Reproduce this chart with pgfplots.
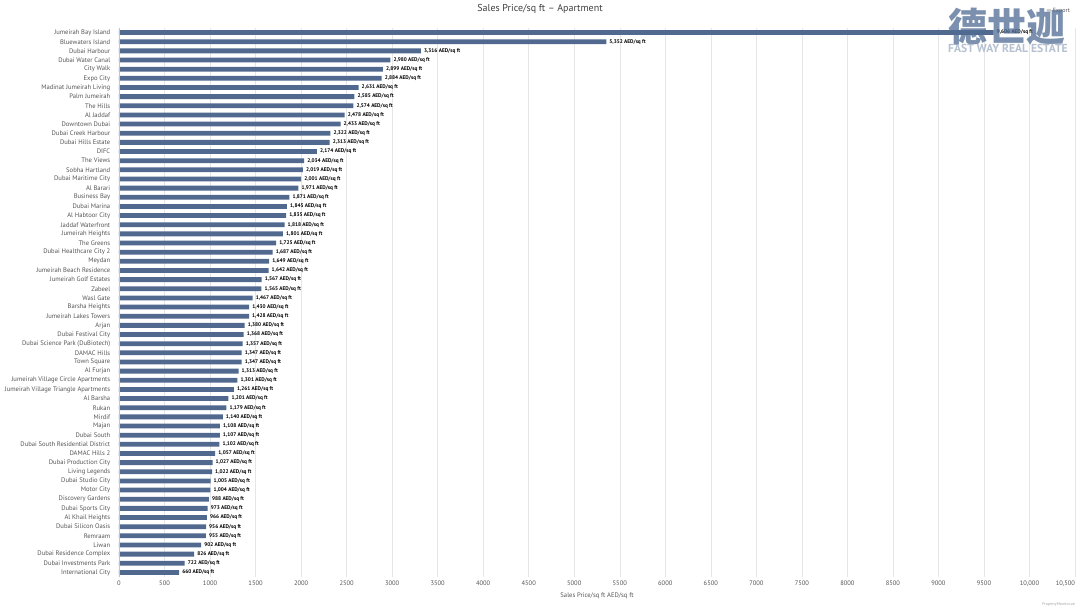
\documentclass[border=0pt]{standalone}
\usepackage{fontspec}
\setmainfont{PT Sans}
\newfontfamily\cjk{Noto Sans CJK SC}
\usepackage{pgfplots}
\pgfplotsset{compat=1.18}
\definecolor{barc}{HTML}{51698E}
\definecolor{gridc}{HTML}{E6E6E6}
\definecolor{txt}{HTML}{555555}
\definecolor{wm}{HTML}{4F6C94}
\definecolor{wm2}{HTML}{A9B6CA}
\begin{document}
\begin{tikzpicture}
\useasboundingbox (-119bp,-31bp) rectangle (961bp,577bp);
\fill[white] (-119bp,-31bp) rectangle (961bp,577bp);
\begin{axis}[
  scale only axis,
  width=956bp, height=549bp,
  xmin=0, xmax=10500,
  ymin=-0.5, ymax=59.5,
  y dir=reverse,
  xbar, bar width=4.8bp,
  axis line style={draw=none},
  major tick style={draw=none},
  scaled x ticks=false,
  /pgf/number format/assume math mode=true,
  xmajorgrids, grid style={gridc, line width=0.5bp},
  xtick={0,500,...,10500},
  xticklabels={0,500,1000,1500,2000,2500,3000,3500,4000,4500,5000,5500,6000,6500,7000,7500,8000,8500,9000,9500,{10,000},{\makebox[0pt][r]{10,500}}},
  xticklabel style={font=\fontsize{6.5bp}{8bp}\selectfont, text=txt, yshift=0bp},
  ytick={0,...,59},
  yticklabels={Jumeirah Bay Island,Bluewaters Island,Dubai Harbour,Dubai Water Canal,City Walk,Expo City,Madinat Jumeirah Living,Palm Jumeirah,The Hills,Al Jaddaf,Downtown Dubai,Dubai Creek Harbour,Dubai Hills Estate,DIFC,The Views,Sobha Hartland,Dubai Maritime City,Al Barari,Business Bay,Dubai Marina,Al Habtoor City,Jaddaf Waterfront,Jumeirah Heights,The Greens,Dubai Healthcare City 2,Meydan,Jumeirah Beach Residence,Jumeirah Golf Estates,Zabeel,Wasl Gate,Barsha Heights,Jumeirah Lakes Towers,Arjan,Dubai Festival City,Dubai Science Park (DuBiotech),DAMAC Hills,Town Square,Al Furjan,Jumeirah Village Circle Apartments,Jumeirah Village Triangle Apartments,Al Barsha,Rukan,Mirdif,Majan,Dubai South,Dubai South Residential District,DAMAC Hills 2,Dubai Production City,Living Legends,Dubai Studio City,Motor City,Discovery Gardens,Dubai Sports City,Al Khail Heights,Dubai Silicon Oasis,Remraam,Liwan,Dubai Residence Complex,Dubai Investments Park,International City},
  yticklabel style={font=\fontsize{6.6bp}{8bp}\selectfont, text=txt, xshift=-1bp},
  xlabel={Sales Price/sq ft AED/sq ft},
  xlabel style={font=\fontsize{6.6bp}{8bp}\selectfont, text=txt, yshift=0bp},
  point meta=x,
  nodes near coords={\pgfmathprintnumber[fixed,precision=0,1000 sep={,}]{\pgfplotspointmeta} AED/sq ft},
  nodes near coords style={font=\bfseries\fontsize{5.3bp}{6bp}\selectfont, text=black, anchor=west, inner sep=3bp},
]
\addplot[fill=barc, draw=none] coordinates {
(9606,0) (5352,1) (3316,2) (2980,3) (2899,4) (2884,5) (2631,6) (2585,7) (2574,8) (2478,9)
(2433,10) (2322,11) (2313,12) (2174,13) (2034,14) (2019,15) (2001,16) (1971,17) (1871,18) (1845,19)
(1835,20) (1818,21) (1801,22) (1725,23) (1687,24) (1649,25) (1642,26) (1567,27) (1565,28) (1467,29)
(1430,30) (1428,31) (1380,32) (1368,33) (1357,34) (1347,35) (1347,36) (1313,37) (1301,38) (1261,39)
(1201,40) (1179,41) (1140,42) (1108,43) (1107,44) (1102,45) (1057,46) (1027,47) (1022,48) (1005,49)
(1004,50) (988,51) (973,52) (966,53) (956,54) (955,55) (902,56) (826,57) (722,58) (660,59)
};
\draw[color=blue!20!gray!40, line width=0.6bp] (axis cs:0,-0.5) -- (axis cs:0,59.5);
\end{axis}
% title centred on the whole chart
\node[inner sep=0pt, text=black!75, font=\fontsize{10bp}{12bp}\selectfont] at (421bp,568bp) {Sales Price/sq ft -- Apartment};
\node[anchor=east, inner sep=0pt, text=txt, font=\fontsize{6bp}{7bp}\selectfont] at (951bp,566bp) {$\equiv$\,Export};
% watermark
\node[anchor=north west, inner sep=0pt, text=wm, opacity=0.75, font=\cjk\bfseries\fontsize{39bp}{40bp}\selectfont] at (829bp,569bp) {德世迦};
\node[anchor=north west, inner sep=0pt, text=wm2, opacity=0.85, font=\bfseries\fontsize{11.6bp}{13bp}\selectfont] at (829bp,533bp) {FAST WAY REAL ESTATE};
\node[anchor=east, inner sep=0pt, text=gray!70, font=\fontsize{4bp}{5bp}\selectfont] at (956bp,-27bp) {PropertyMonitor.ae};
\end{tikzpicture}
\end{document}
